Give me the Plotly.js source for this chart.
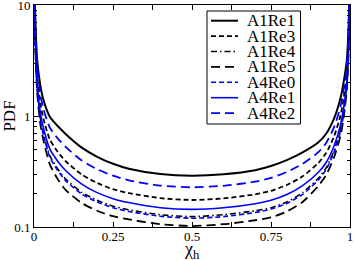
<!DOCTYPE html>
<html><head><meta charset="utf-8">
<script src="https://cdn.plot.ly/plotly-3.0.1.min.js"></script>
<style>html,body{margin:0;padding:0;background:#fff;}#chart{width:354px;height:260px;}</style>
</head><body><div id="chart"></div>
<script>
// chi_h sample positions
const chiH = [0.001,0.002,0.003,0.005,0.01,0.02,0.03,0.05,0.075,0.1,0.15,0.2,0.25,0.3,0.4,0.5,0.6,0.7,0.75,0.8,0.85,0.9,0.925,0.95,0.97,0.98,0.99,0.995,0.997,0.998,0.999];

const seriesNames = ['A1Re1','A1Re3','A1Re4','A1Re5','A4Re0','A4Re1','A4Re2'];

const pdfA1Re1 = [28,14.5,9.86,6.38,3.19,1.885,1.392,0.986,0.812,0.690,0.522,0.429,0.371,0.335,0.300,0.290,0.299,0.325,0.354,0.400,0.470,0.580,0.696,0.957,1.45,2.03,3.19,5.8,9.28,13.9,27];
const pdfA1Re3 = [26,12.7,8.42,4.88,2.36,1.30,0.942,0.614,0.476,0.392,0.298,0.249,0.219,0.202,0.182,0.175,0.181,0.197,0.212,0.239,0.286,0.378,0.466,0.660,1.01,1.45,2.44,4.69,8.07,12.2,25];
const pdfA1Re4 = [22,10.3,6.77,3.78,1.81,0.968,0.694,0.440,0.334,0.270,0.206,0.174,0.154,0.143,0.129,0.124,0.129,0.140,0.149,0.168,0.204,0.275,0.343,0.491,0.755,1.09,1.88,3.70,6.52,9.93,21];
const pdfA1Re5 = [22,10.0,6.53,3.47,1.63,0.847,0.602,0.367,0.270,0.216,0.165,0.140,0.125,0.117,0.106,0.102,0.106,0.115,0.122,0.138,0.168,0.235,0.296,0.428,0.663,0.969,1.73,3.47,6.32,9.69,21];
const pdfA4Re0 = [21,9.94,6.55,3.66,1.75,0.937,0.672,0.426,0.323,0.262,0.199,0.168,0.149,0.138,0.125,0.120,0.124,0.135,0.145,0.163,0.197,0.266,0.332,0.475,0.731,1.06,1.82,3.58,6.31,9.61,20];
const pdfA4Re1 = [22,10.4,6.93,4.02,1.94,1.07,0.775,0.505,0.392,0.323,0.245,0.204,0.180,0.166,0.149,0.144,0.149,0.162,0.174,0.196,0.236,0.311,0.383,0.543,0.832,1.19,2.01,3.86,6.64,10.1,21];
const pdfA4Re2 = [27,13.5,9.07,5.59,2.76,1.575,1.151,0.787,0.629,0.527,0.399,0.331,0.290,0.263,0.236,0.228,0.235,0.256,0.277,0.313,0.371,0.472,0.575,0.798,1.22,1.72,2.80,5.20,8.62,13.0,26];

const xTickVals = [0,0.25,0.5,0.75,1];
const xTickText = ['0','0.25','0.5','0.75','1'];
const xMinorVals = [0.125,0.375,0.625,0.875];
const yTickVals = [0.1,1,10];
const yTickText = ['0.1','1','10'];
const yMinorVals = [0.2,0.3,0.4,0.5,0.6,0.7,0.8,0.9,2,3,4,5,6,7,8,9];

const seriesY = [pdfA1Re1,pdfA1Re3,pdfA1Re4,pdfA1Re5,pdfA4Re0,pdfA4Re1,pdfA4Re2];
const styles = [
  {color:'#000000', dash:'solid', width:2},
  {color:'#000000', dash:'5px,3px', width:1.8},
  {color:'#000000', dash:'6px,3px,1.5px,3px', width:1.6},
  {color:'#000000', dash:'9px,5px', width:1.8},
  {color:'#0000ff', dash:'5px,3px', width:1.6},
  {color:'#0000ff', dash:'solid', width:1.6},
  {color:'#0000ff', dash:'9px,5px', width:1.8}
];

const traces = seriesNames.map((n,i)=>({
  type:'scatter', mode:'lines', name:n, x:chiH, y:seriesY[i],
  line:{color:styles[i].color, dash:styles[i].dash, width:styles[i].width, shape:'spline', smoothing:0.6},
  hoverinfo:'skip'
}));

// manual legend (box + samples + labels)
const plotL=34, plotW=316, plotB=227, plotH=222;
const px2x = p => (p-plotL)/plotW;
const py2y = p => (plotB-p)/plotH;
const shapes = [{type:'rect', xref:'paper', yref:'paper', x0:px2x(207), x1:px2x(300.5), y0:py2y(124), y1:py2y(11),
  line:{color:'#000', width:1}, fillcolor:'#fff', layer:'above'}];
const annotations = [];
seriesNames.forEach((n,i)=>{
  const yy = py2y(20.7 + i*15.4);
  shapes.push({type:'line', xref:'paper', yref:'paper', x0:px2x(211), x1:px2x(238), y0:yy, y1:yy,
    line:{color:styles[i].color, dash:styles[i].dash, width:styles[i].width}, layer:'above'});
  annotations.push({xref:'paper', yref:'paper', x:px2x(245), y:yy, xanchor:'left', yanchor:'middle',
    text:n, showarrow:false, font:{size:17, color:'#000'}});
});
// x-axis title
annotations.push({xref:'paper', yref:'paper', x:px2x(192), y:py2y(264), xanchor:'center', yanchor:'bottom',
  text:'χ<sub>h</sub>', showarrow:false, font:{size:18, color:'#000'}});

const layout = {
  width:354, height:260,
  margin:{l:34, r:4, t:5, b:33},
  paper_bgcolor:'#fff', plot_bgcolor:'#fff',
  showlegend:false,
  font:{family:'"Liberation Serif","DejaVu Serif",serif', color:'#000'},
  xaxis:{range:[0,1], tickmode:'array', tickvals:xTickVals, ticktext:xTickText,
    ticks:'inside', ticklen:5, tickwidth:1, tickcolor:'#000', ticklabelstandoff:-3, ticklabeloverflow:'allow',
    minor:{tickmode:'array', tickvals:xMinorVals, ticks:'inside', ticklen:5, tickcolor:'#000', showgrid:false},
    showline:true, linecolor:'#000', linewidth:1, mirror:'ticks',
    showgrid:false, zeroline:false, tickfont:{size:13}},
  yaxis:{type:'log', range:[-1,1], tickmode:'array', tickvals:yTickVals, ticktext:yTickText,
    ticks:'inside', ticklen:6, tickwidth:1, tickcolor:'#000', ticklabeloverflow:'allow',
    minor:{tickmode:'array', tickvals:yMinorVals, ticks:'inside', ticklen:3, tickcolor:'#000', showgrid:false},
    showline:true, linecolor:'#000', linewidth:1, mirror:'ticks',
    showgrid:false, zeroline:false, tickfont:{size:13},
    title:{text:'PDF', font:{size:17}, standoff:2}},
  shapes:shapes,
  annotations:annotations
};

Plotly.newPlot('chart', traces, layout, {displayModeBar:false, staticPlot:true});
</script>
</body></html>
